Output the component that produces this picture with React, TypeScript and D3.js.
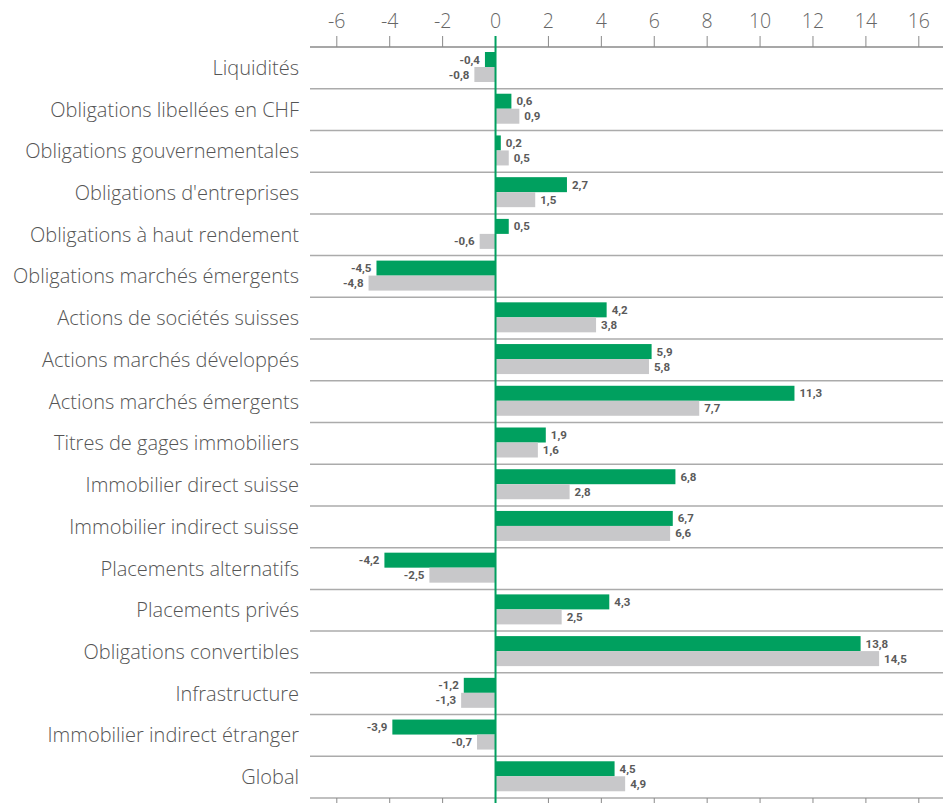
import * as d3 from 'd3';

const categories = [
  'Liquidités',
  'Obligations libellées en CHF',
  'Obligations gouvernementales',
  "Obligations d'entreprises",
  'Obligations à haut rendement',
  'Obligations marchés émergents',
  'Actions de sociétés suisses',
  'Actions marchés développés',
  'Actions marchés émergents',
  'Titres de gages immobiliers',
  'Immobilier direct suisse',
  'Immobilier indirect suisse',
  'Placements alternatifs',
  'Placements privés',
  'Obligations convertibles',
  'Infrastructure',
  'Immobilier indirect étranger',
  'Global',
];

const greenValues = [-0.4, 0.6, 0.2, 2.7, 0.5, -4.5, 4.2, 5.9, 11.3, 1.9, 6.8, 6.7, -4.2, 4.3, 13.8, -1.2, -3.9, 4.5];
const grayValues = [-0.8, 0.9, 0.5, 1.5, -0.6, -4.8, 3.8, 5.8, 7.7, 1.6, 2.8, 6.6, -2.5, 2.5, 14.5, -1.3, -0.7, 4.9];

const xTicks = [-6, -4, -2, 0, 2, 4, 6, 8, 10, 12, 14, 16];

const W = 943;
const H = 803;
const GREEN = '#00a05f';
const GRAY = '#c8c8ca';

const fmt = (v: number) => String(v).replace('.', ',');

export default function App() {
  const x = d3.scaleLinear().domain([-6, 16]).range([336.8, 918.8]);
  const y = d3.scaleBand<string>().domain(categories).range([47, 798]);
  const bw = y.bandwidth();
  const barH = 15;
  const x0 = x(0);

  const valueLabel = (v: number, yc: number, key: string) => (
    <text
      key={key}
      x={v >= 0 ? x(v) + 5 : x(v) - 5}
      y={yc}
      dy="0.35em"
      textAnchor={v >= 0 ? 'start' : 'end'}
      fontFamily="'Liberation Sans Narrow', 'Roboto', sans-serif"
      fontWeight="bold"
      fontSize={11.5}
      fill="#5a5a5a"
    >
      {fmt(v)}
    </text>
  );

  return (
    <svg
      width={W}
      height={H}
      style={{ position: 'absolute', left: 0, top: 0 }}
      fontFamily="'Open Sans', 'Noto Sans', sans-serif"
    >
      {/* separators */}
      {categories.map((c, i) =>
        i === 0 ? null : (
          <line key={'sep' + c} x1={310} x2={W} y1={y(c)!} y2={y(c)!} stroke="#ababab" strokeWidth={1.5} />
        ),
      )}
      {/* top axis */}
      <line x1={310} x2={W} y1={47} y2={47} stroke="#8a8a8a" strokeWidth={1.5} />
      {/* bottom axis */}
      <line x1={310} x2={W} y1={798} y2={798} stroke="#ababab" strokeWidth={1.5} />
      {xTicks.map((t) => (
        <g key={'t' + t}>
          <line x1={x(t)} x2={x(t)} y1={36} y2={47} stroke="#8a8a8a" strokeWidth={1} />
          <line x1={x(t)} x2={x(t)} y1={798} y2={810} stroke="#8a8a8a" strokeWidth={1} />
          <text x={x(t)} y={28} textAnchor="middle" fontSize={19.5} fontWeight={300} fill="#666">
            {t}
          </text>
        </g>
      ))}

      {categories.map((c, i) => {
        const top = y(c)!;
        const g = greenValues[i];
        const s = grayValues[i];
        return (
          <g key={c}>
            <text x={299} y={top + bw / 2} dy="0.35em" textAnchor="end" fontSize={20} fontWeight={300} fill="#555">
              {c}
            </text>
            <rect x={Math.min(x(g), x0)} y={top + 5} width={Math.abs(x(g) - x0)} height={barH} fill={GREEN} />
            <rect x={Math.min(x(s), x0)} y={top + 5 + barH} width={Math.abs(x(s) - x0)} height={barH} fill={GRAY} />
            {valueLabel(g, top + 5 + barH / 2, 'g' + i)}
            {valueLabel(s, top + 5 + barH * 1.5, 's' + i)}
          </g>
        );
      })}

      {/* zero line */}
      <line x1={x0} x2={x0} y1={36} y2={H} stroke={GREEN} strokeWidth={2} />
    </svg>
  );
}
